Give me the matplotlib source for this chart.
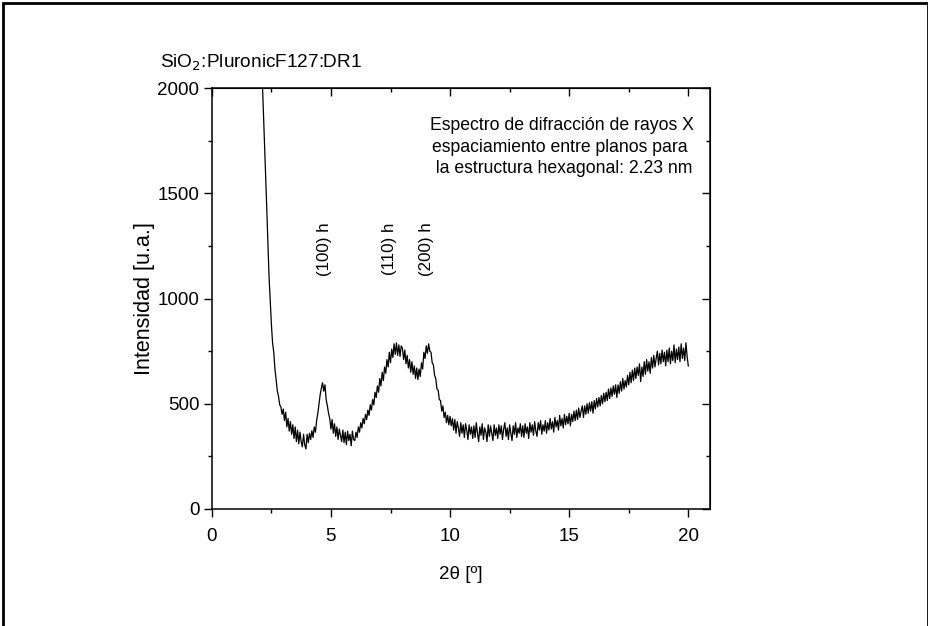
import matplotlib

matplotlib.use("Agg")

import matplotlib.pyplot as plt  # noqa: E402
import numpy as np  # noqa: E402
from matplotlib.patches import Rectangle  # noqa: E402
from matplotlib.ticker import MultipleLocator  # noqa: E402

# intensity, one row per degree, step 0.05 deg
intensity = [
    2700, 2400, 2100, 1940, 1775, 1610, 1450, 1280, 1110, 990,
    880, 790, 745, 665, 615, 560, 535, 495, 485, 450,  # 2.0 - 2.95
    475, 420, 460, 390, 430, 370, 415, 355, 400, 335,
    390, 320, 375, 310, 365, 320, 295, 355, 305, 285,  # 3.0 - 3.95
    355, 315, 360, 330, 372, 340, 390, 365, 420, 455,
    500, 545, 575, 600, 560, 590, 520, 490, 455, 430,  # 4.0 - 4.95
    380, 425, 360, 405, 345, 390, 330, 380, 350, 320,
    375, 315, 365, 305, 370, 325, 355, 300, 370, 330,  # 5.0 - 5.95
    325, 365, 340, 390, 365, 410, 385, 430, 405, 450,
    425, 470, 445, 495, 470, 520, 495, 555, 530, 585,  # 6.0 - 6.95
    555, 620, 585, 650, 610, 675, 645, 710, 675, 745,
    695, 760, 720, 785, 735, 790, 730, 780, 725, 775,  # 7.0 - 7.95
    765, 710, 755, 690, 730, 670, 710, 650, 700, 640,
    680, 620, 670, 615, 665, 630, 695, 665, 745, 715,  # 8.0 - 8.95
    775, 740, 785, 750, 745, 695, 685, 635, 620, 570,
    565, 520, 515, 465, 490, 435, 460, 410, 445, 400,  # 9.0 - 9.95
    440, 395, 430, 375, 425, 360, 415, 385, 345, 410,
    360, 400, 340, 405, 375, 330, 400, 355, 390, 335,  # 10.0 - 10.95
    395, 340, 410, 360, 320, 390, 350, 405, 330, 385,
    365, 320, 400, 345, 395, 360, 325, 400, 350, 385,  # 11.0 - 11.95
    335, 400, 355, 395, 330, 380, 410, 345, 385, 330,
    400, 360, 325, 395, 355, 410, 340, 385, 360, 405,  # 12.0 - 12.95
    345, 395, 340, 405, 360, 390, 335, 410, 365, 400,
    350, 415, 370, 345, 410, 375, 420, 355, 400, 370,  # 13.0 - 13.95
    420, 360, 410, 375, 430, 380, 415, 365, 435, 390,
    420, 375, 445, 395, 430, 385, 450, 400, 440, 405,  # 14.0 - 14.95
    455, 395, 450, 415, 465, 420, 470, 425, 480, 435,
    465, 490, 435, 490, 450, 500, 455, 505, 465, 510,  # 15.0 - 15.95
    455, 515, 475, 525, 485, 530, 490, 540, 500, 550,
    510, 555, 515, 570, 525, 575, 535, 585, 545, 590,  # 16.0 - 16.95
    530, 590, 550, 605, 560, 620, 570, 610, 580, 635,
    590, 650, 600, 660, 610, 670, 620, 675, 635, 690,  # 17.0 - 17.95
    605, 675, 630, 700, 640, 710, 655, 700, 645, 720,
    670, 730, 675, 715, 750, 685, 740, 690, 755, 700,  # 18.0 - 18.95
    745, 680, 755, 700, 765, 690, 750, 705, 780, 695,
    760, 710, 770, 700, 785, 715, 765, 705, 790, 725,  # 19.0 - 19.95
    680,  # 20.0
]
two_theta = np.linspace(2.0, 20.0, len(intensity))

peak_labels = ["(100) h", "(110) h", "(200) h"]
peak_positions = [4.74, 7.46, 9.0]
peak_label_height = 1235

plt.rcParams["font.family"] = ["Liberation Sans", "DejaVu Sans"]

fig = plt.figure(figsize=(9.29, 6.26), dpi=100)
ax = fig.add_axes([0.228, 0.187, 0.536, 0.672])

ax.plot(two_theta, intensity, color="black", linewidth=0.9)

ax.set_xlim(0, 20.9)
ax.set_ylim(0, 2000)

ax.xaxis.set_major_locator(MultipleLocator(5))
ax.xaxis.set_minor_locator(MultipleLocator(2.5))
ax.yaxis.set_major_locator(MultipleLocator(500))
ax.yaxis.set_minor_locator(MultipleLocator(250))

ax.tick_params(which="major", direction="out", length=6, width=1,
               labelsize=13.5)
ax.tick_params(axis="x", which="major", pad=8)
ax.tick_params(axis="y", which="major", pad=3)
ax.tick_params(which="minor", direction="out", length=3, width=1)

for sp in ax.spines.values():
    sp.set_linewidth(1.1)

# mirrored ticks on top and right, pointing inward
top = ax.secondary_xaxis("top")
top.xaxis.set_major_locator(MultipleLocator(5))
top.xaxis.set_minor_locator(MultipleLocator(2.5))
top.tick_params(which="major", direction="in", length=6, width=1,
                labeltop=False)
top.tick_params(which="minor", direction="in", length=3, width=1)

right = ax.secondary_yaxis("right")
right.yaxis.set_major_locator(MultipleLocator(500))
right.yaxis.set_minor_locator(MultipleLocator(250))
right.tick_params(which="major", direction="in", length=6, width=1,
                  labelright=False)
right.tick_params(which="minor", direction="in", length=3, width=1)

ax.set_xlabel("2\u03b8 [\u00ba]", fontsize=13.5, labelpad=15)
ax.set_ylabel("Intensidad [u.a.]", fontsize=15.5, labelpad=2)

for lab, pos in zip(peak_labels, peak_positions):
    ax.text(pos, peak_label_height, lab, rotation=90, ha="center",
            va="center", fontsize=12.2)

ax.text(0.703, 0.931,
        "Espectro de difracción de rayos X\n"
        "espaciamiento entre planos para \n"
        " la estructura hexagonal: 2.23 nm",
        transform=ax.transAxes, ha="center", va="top", fontsize=12.7,
        linespacing=1.33, multialignment="center")

fig.text(0.1725, 0.884, "SiO$_2$:PluronicF127:DR1", fontsize=13.7,
         ha="left", va="bottom")

# outer frame around the figure
fig.patches.append(Rectangle((0.0027, -0.01), 0.9957, 1.006,
                             transform=fig.transFigure, fill=False,
                             edgecolor="black", linewidth=2))

fig.savefig("out.png", dpi=100)
